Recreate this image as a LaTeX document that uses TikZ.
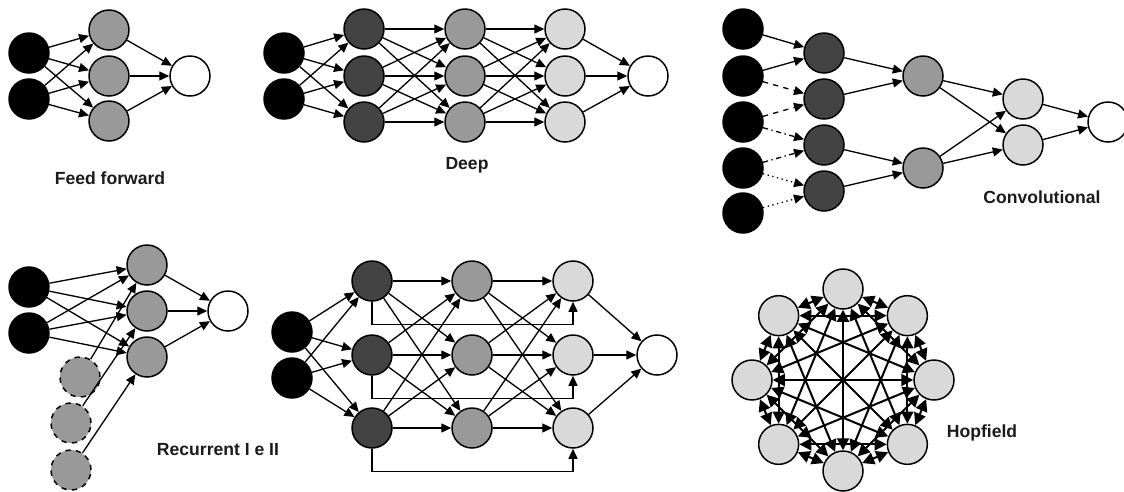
\documentclass[tikz,border=0pt]{standalone}
\usepackage{fontspec}
\setmainfont{Liberation Sans}
\usetikzlibrary{arrows.meta}
\definecolor{cdark}{HTML}{434343}
\definecolor{cmid}{HTML}{999999}
\definecolor{clight}{HTML}{D9D9D9}
\definecolor{ctext}{HTML}{1A1A1A}
\begin{document}
\begin{tikzpicture}[x=0.02cm,y=-0.02cm,
 nd/.style={circle,draw=black,line width=0.85pt,minimum size=0.8cm,inner sep=0pt},
 inn/.style={nd,fill=black},
 dk/.style={nd,fill=cdark},
 md/.style={nd,fill=cmid},
 lt/.style={nd,fill=clight},
 ot/.style={nd,fill=white},
 rc/.style={nd,fill=cmid,dashed},
 ar/.style={line width=0.75pt,-{Triangle[length=0.2cm,width=0.18cm]}},
 har/.style={line width=1.15pt,{Triangle[length=0.24cm,width=0.24cm]}-{Triangle[length=0.24cm,width=0.24cm]}},
 lbl/.style={font=\bfseries\fontsize{10}{12}\selectfont,text=ctext}]
\useasboundingbox (0,0) rectangle (1124,491);

% ---------- Feed forward ----------
\node[inn] (fi1) at (29,53) {};
\node[inn] (fi2) at (29,99) {};
\node[md] (fh1) at (109,30) {};
\node[md] (fh2) at (109,76) {};
\node[md] (fh3) at (109,121) {};
\node[ot] (fo) at (190,76) {};
\foreach \i in {1,2} \foreach \j in {1,2,3} \draw[ar] (fi\i) -- (fh\j);
\foreach \j in {1,2,3} \draw[ar] (fh\j) -- (fo);
\node[lbl] (fl) at (110,178) {Feed forward};

% ---------- Deep ----------
\node[inn] (di1) at (284,53) {};
\node[inn] (di2) at (284,99) {};
\foreach \j/\y in {1/29,2/76,3/122} {
  \node[dk] (da\j) at (364,\y) {};
  \node[md] (db\j) at (465,\y) {};
  \node[lt] (dc\j) at (565,\y) {};
}
\node[ot] (do) at (648,76) {};
\foreach \i in {1,2} \foreach \j in {1,2,3} \draw[ar] (di\i) -- (da\j);
\foreach \i in {1,2,3} \foreach \j in {1,2,3} {
  \draw[ar] (da\i) -- (db\j);
  \draw[ar] (db\i) -- (dc\j);
}
\foreach \j in {1,2,3} \draw[ar] (dc\j) -- (do);
\node[lbl] (dl) at (467,165) {Deep};

% ---------- Convolutional ----------
\foreach \j/\y in {1/29,2/76,3/122,4/168,5/213} \node[inn] (ci\j) at (743,\y) {};
\foreach \j/\y in {1/53,2/99,3/145,4/191} \node[dk] (ca\j) at (824,\y) {};
\node[md] (cb1) at (923,76) {};
\node[md] (cb2) at (923,168) {};
\node[lt] (cc1) at (1023,99) {};
\node[lt] (cc2) at (1023,145) {};
\node[ot] (co) at (1108,122) {};
\draw[ar] (ci1) -- (ca1);
\draw[ar] (ci2) -- (ca1);
\draw[ar,dashed] (ci2) -- (ca2);
\draw[ar,dashed] (ci3) -- (ca2);
\draw[ar,dashdotted] (ci3) -- (ca3);
\draw[ar,dashdotted] (ci4) -- (ca3);
\draw[ar,dotted] (ci4) -- (ca4);
\draw[ar,dotted] (ci5) -- (ca4);
\draw[ar] (ca1) -- (cb1);
\draw[ar] (ca2) -- (cb1);
\draw[ar] (ca3) -- (cb2);
\draw[ar] (ca4) -- (cb2);
\foreach \i in {1,2} \foreach \j in {1,2} \draw[ar] (cb\i) -- (cc\j);
\draw[ar] (cc1) -- (co);
\draw[ar] (cc2) -- (co);
\node[lbl] (cl) at (1042,197) {Convolutional};

% ---------- Recurrent ----------
\node[inn] (ri1) at (29,287) {};
\node[inn] (ri2) at (29,333) {};
\node[md] (rh1) at (147,265) {};
\node[md] (rh2) at (147,311) {};
\node[md] (rh3) at (147,357) {};
\node[ot] (ro) at (228,311) {};
\node[rc] (rr1) at (80,377) {};
\node[rc] (rr2) at (71,423) {};
\node[rc] (rr3) at (71,470) {};
\foreach \i in {1,2} \foreach \j in {1,2,3} \draw[ar] (ri\i) -- (rh\j);
\foreach \j in {1,2,3} {
  \draw[ar] (rr\j) -- (rh\j);
  \draw[ar] (rh\j) -- (ro);
}
\node[lbl] (rl) at (218,450) {Recurrent I e II};

% ---------- Deep recurrent (skip) ----------
\node[inn] (mi1) at (292,332) {};
\node[inn] (mi2) at (292,378) {};
\foreach \j/\y in {1/281,2/355,3/428} {
  \node[dk] (ma\j) at (372,\y) {};
  \node[md] (mb\j) at (472,\y) {};
  \node[lt] (mc\j) at (573,\y) {};
}
\node[ot] (mo) at (657,355) {};
\foreach \i in {1,2} \foreach \j in {1,2,3} \draw[ar] (mi\i) -- (ma\j);
\foreach \i in {1,2,3} \foreach \j in {1,2,3} {
  \draw[ar] (ma\i) -- (mb\j);
  \draw[ar] (mb\i) -- (mc\j);
}
\foreach \j in {1,2,3} {
  \draw[ar] (mc\j) -- (mo);
  \draw[ar] (ma\j.south) -- ++(0,23) -| (mc\j.south);
}

% ---------- Hopfield ----------
\foreach \k in {0,...,7} \node[lt] (h\k) at ({843+91*cos(\k*45)},{380+91*sin(\k*45)}) {};
\foreach \a in {0,...,6} {
  \pgfmathtruncatemacro\bstart{\a+1}
  \foreach \b in {\bstart,...,7} \draw[har] (h\a) -- (h\b);
}
\node[lbl] (hl) at (982,433) {Hopfield};
\end{tikzpicture}
\end{document}
